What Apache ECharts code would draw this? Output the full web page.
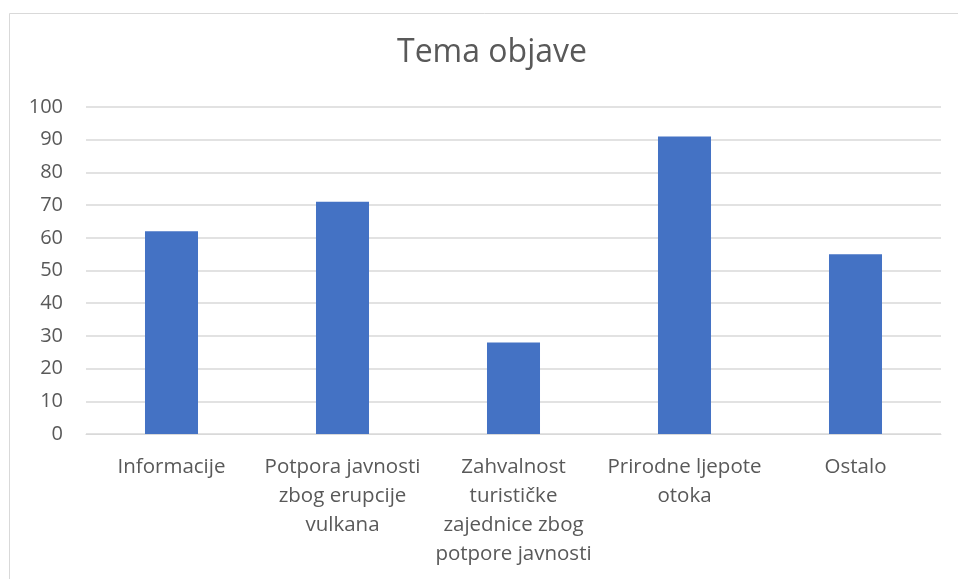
<!DOCTYPE html>
<html>
<head>
<meta charset="utf-8">
<script src="https://cdn.jsdelivr.net/npm/echarts@6/dist/echarts.min.js"></script>
<style>
html,body{margin:0;padding:0;background:#fff;}
#chart{width:958px;height:579px;}
</style>
</head>
<body>
<div id="chart"></div>
<script>
const titleText = "Tema objave";
const categories = [
  "Informacije",
  "Potpora javnosti\nzbog erupcije\nvulkana",
  "Zahvalnost\nturističke\nzajednice zbog\npotpore javnosti",
  "Prirodne ljepote\notoka",
  "Ostalo"
];
const values = [62, 71, 28, 91, 55];
const yMin = 0, yMax = 100, yStep = 10;

const chart = echarts.init(document.getElementById('chart'), null, {renderer: 'canvas'});
const font = '"Open Sans", "Liberation Sans", sans-serif';
chart.setOption({
  animation: false,
  backgroundColor: '#ffffff',
  graphic: [{
    type: 'rect',
    shape: {x: 9.5, y: 13.5, width: 1000, height: 600},
    style: {fill: 'none', stroke: '#d9d9d9', lineWidth: 1},
    silent: true, z: -10
  }],
  title: {
    text: titleText,
    left: 487,
    textAlign: 'center',
    top: 32,
    textStyle: {fontFamily: font, fontSize: 32, fontWeight: 'normal', color: '#595959'}
  },
  grid: {left: 86, right: 17, top: 107, bottom: 145, containLabel: false},
  xAxis: {
    type: 'category',
    data: categories,
    axisLine: {show: true, lineStyle: {color: '#d9d9d9', width: 1}},
    axisTick: {show: false},
    axisLabel: {
      interval: 0, margin: 19,
      fontFamily: font, fontSize: 20.5, color: '#595959', lineHeight: 29, align: 'center'
    }
  },
  yAxis: {
    type: 'value',
    min: yMin, max: yMax, interval: yStep,
    axisLine: {show: false},
    axisTick: {show: false},
    splitLine: {lineStyle: {color: '#d9d9d9', width: 1.5}},
    axisLabel: {margin: 23, fontFamily: font, fontSize: 20, color: '#595959'}
  },
  series: [{
    type: 'bar',
    data: values,
    barWidth: '31%',
    itemStyle: {color: '#4472c4'}
  }]
});
</script>
</body>
</html>
